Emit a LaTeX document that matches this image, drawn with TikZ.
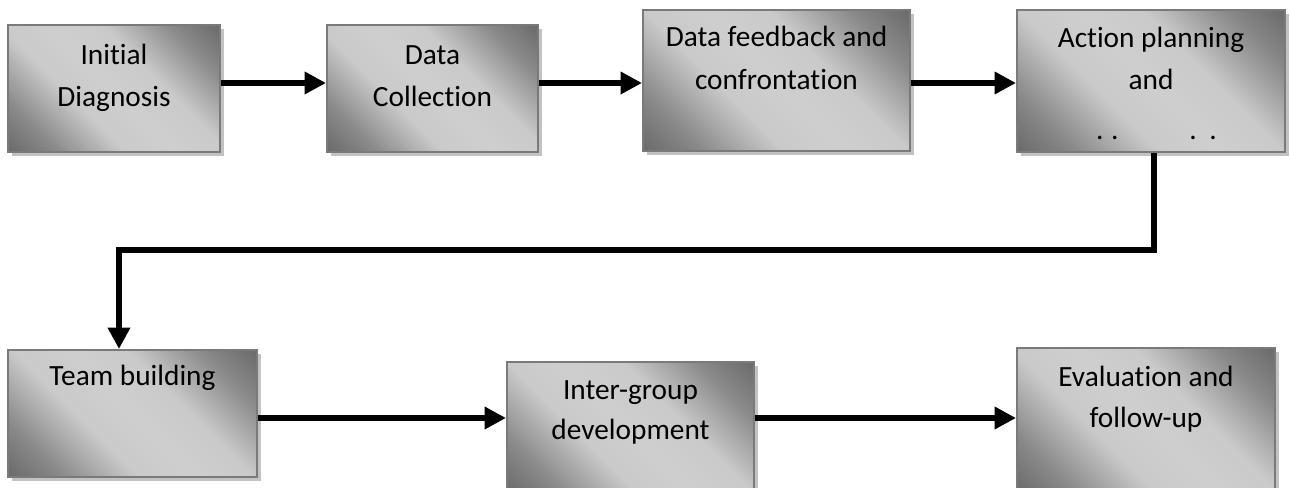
\documentclass[tikz,border=0pt]{standalone}
\usepackage{fontspec}
\setmainfont{Carlito}[Ligatures=NoCommon]
\usetikzlibrary{arrows.meta,shadows}

\definecolor{boxdark}{gray}{0.42}
\definecolor{boxmid}{gray}{0.54}
\definecolor{boxlight}{gray}{0.79}
\definecolor{boxcentre}{gray}{0.81}
\definecolor{boxedge}{gray}{0.48}
\definecolor{shadowgray}{gray}{0.76}

% diagonal fill: dark at two opposite corners, light band through the middle
% (with a 45 degree angle the box diagonal spans roughly 14.6bp to 85.4bp)
\pgfdeclarehorizontalshading{boxfill}{100bp}{%
  color(0bp)=(boxdark); color(15bp)=(boxdark); color(25bp)=(boxmid);
  color(39bp)=(boxlight); color(50bp)=(boxcentre); color(61bp)=(boxlight);
  color(75bp)=(boxmid); color(85bp)=(boxdark); color(100bp)=(boxdark)}

\begin{document}
\begin{tikzpicture}[x=0.75pt,y=-0.75pt,
  stepbox/.style={rectangle, draw=boxedge, line width=1.5pt, inner sep=0pt,
    shade, shading=boxfill, shading angle=45,
    drop shadow={shadow xshift=3pt, shadow yshift=-3pt, fill=shadowgray, opacity=1}},
  txt/.style={font=\fontsize{22}{32}\selectfont, inner sep=0pt, anchor=base, text=black},
  conn/.style={line width=5pt, line join=miter, -{Triangle[length=16pt,width=16pt]}}]

\useasboundingbox (0,0) rectangle (1290,488);
\clip (0,0) rectangle (1290,488);

% top row
\node[stepbox, minimum width=159pt,    minimum height=95.25pt] (b1) at (114,88.5) {};
\node[stepbox, minimum width=158.25pt, minimum height=95.25pt] (b2) at (432.5,88.5) {};
\node[stepbox, minimum width=200.25pt, minimum height=105.75pt] (b3) at (776.5,80.5) {};
\node[stepbox, minimum width=201pt,    minimum height=106.5pt] (b4) at (1151,81) {};

% bottom row
\node[stepbox, minimum width=186.75pt, minimum height=95.25pt] (b5) at (132.5,413.5) {};
\node[stepbox, minimum width=185.25pt, minimum height=99pt]    (b6) at (630.5,428) {};
\node[stepbox, minimum width=193.5pt,  minimum height=109.5pt] (b7) at (1146,421) {};

% labels, one node per printed line
\node[txt] (t1a) at (114,65)    {Initial};
\node[txt] (t1b) at (114,107)   {Diagnosis};
\node[txt] (t2a) at (432.5,64.5){Data};
\node[txt] (t2b) at (432.5,107) {Collection};
\node[txt] (t3a) at (776.5,47)  {Data feedback and};
\node[txt] (t3b) at (776.5,90)  {confrontation};
\node[txt] (t4a) at (1151,48)   {Action planning};
\node[txt] (t4b) at (1151,90)   {and};
\node[txt] (t4c) at (1156.5,140){.\hspace{5.75pt}.\hspace{53pt}.\hspace{9.5pt}.};
\node[txt] (t5a) at (132.5,386) {Team building};
\node[txt] (t6a) at (630.5,400) {Inter-group};
\node[txt] (t6b) at (630.5,440) {development};
\node[txt] (t7a) at (1146,387)  {Evaluation and};
\node[txt] (t7b) at (1146,428)  {follow-up};

% connector rows and bends
\coordinate (row1) at (0,83);
\coordinate (row2) at (0,418);
\coordinate (bend) at (1154,250);
\coordinate (drop) at (119,250);

\draw[conn] (b1.east |- row1) -- (b2.west |- row1);
\draw[conn] (b2.east |- row1) -- (b3.west |- row1);
\draw[conn] (b3.east |- row1) -- (b4.west |- row1);
\draw[conn] (b4.south -| bend) -- (bend) -- (drop) -- (b5.north -| drop);
\draw[conn] (b5.east |- row2) -- (b6.west |- row2);
\draw[conn] (b6.east |- row2) -- (b7.west |- row2);
\end{tikzpicture}
\end{document}
